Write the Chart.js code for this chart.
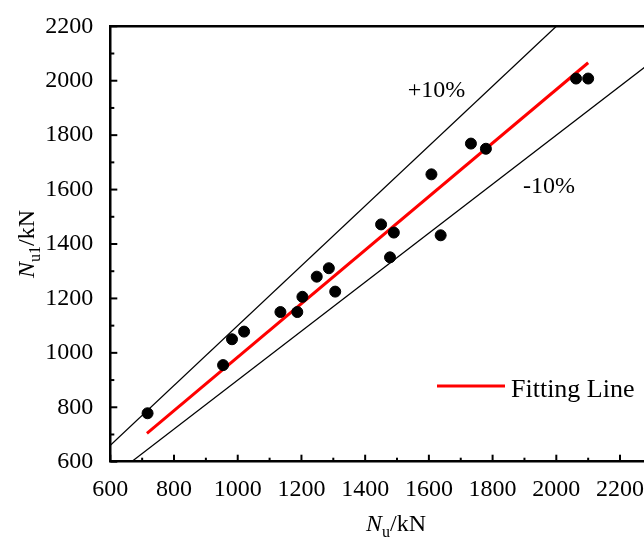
<!DOCTYPE html>
<html>
<head>
<meta charset="utf-8">
<script src="https://cdn.jsdelivr.net/npm/chart.js@4/dist/chart.umd.min.js"></script>
<style>
  html, body { margin: 0; padding: 0; background: #fff; overflow: hidden; }
  #wrap { width: 644px; height: 537px; overflow: hidden; position: relative; }
  canvas { display: block; }
</style>
</head>
<body>
<div id="wrap"><canvas id="c" width="740" height="537"></canvas></div>
<script>
// Data
const testNu = [717, 954, 982, 1020, 1134, 1187, 1203, 1248, 1286, 1306, 1450, 1478, 1490, 1608, 1637, 1732, 1779, 2062, 2100];
const calcNu1 = [778, 955, 1050, 1078, 1150, 1150, 1206, 1280, 1311, 1225, 1472, 1351, 1442, 1656, 1432, 1769, 1750, 2008, 2008];
const fitX = [715, 2100];
const fitY = [704, 2066];
const plus10X = [600, 2000];
const plus10Y = [660, 2200];
const minus10X = [666.7, 2500];
const minus10Y = [600, 2250];
const xMajorTicks = [600, 800, 1000, 1200, 1400, 1600, 1800, 2000, 2200, 2400];
const xMinorTicks = [700, 900, 1100, 1300, 1500, 1700, 1900, 2100, 2300];
const yMajorTicks = [600, 800, 1000, 1200, 1400, 1600, 1800, 2000, 2200];
const yMinorTicks = [700, 900, 1100, 1300, 1500, 1700, 1900, 2100];

const FONT = '"Liberation Serif", "Times New Roman", serif';
const zip = (xs, ys) => xs.map((x, i) => ({ x: x, y: ys[i] }));

const decor = {
  id: 'decor',
  afterDraw(chart) {
    const ctx = chart.ctx;
    const xs = chart.scales.x, ys = chart.scales.y;
    const a = chart.chartArea;
    ctx.save();
    ctx.strokeStyle = '#000';
    // top border
    ctx.lineWidth = 2.5;
    ctx.beginPath();
    ctx.moveTo(a.left - 1.25, a.top);
    ctx.lineTo(a.right, a.top);
    ctx.stroke();
    // inward ticks
    ctx.lineWidth = 2;
    const tickX = (v, len) => { const p = xs.getPixelForValue(v); ctx.beginPath(); ctx.moveTo(p, a.bottom); ctx.lineTo(p, a.bottom - len); ctx.stroke(); };
    const tickY = (v, len) => { const p = ys.getPixelForValue(v); ctx.beginPath(); ctx.moveTo(a.left, p); ctx.lineTo(a.left + len, p); ctx.stroke(); };
    xMajorTicks.forEach(v => tickX(v, 7));
    xMinorTicks.forEach(v => tickX(v, 4));
    yMajorTicks.forEach(v => tickY(v, 7));
    yMinorTicks.forEach(v => tickY(v, 4));

    ctx.fillStyle = '#000';
    ctx.textBaseline = 'alphabetic';
    const drawParts = (parts, cx, cy) => {
      let total = 0;
      parts.forEach(p => { ctx.font = p.font; p.w = ctx.measureText(p.text).width; total += p.w; });
      let x = cx - total / 2;
      ctx.textAlign = 'left';
      parts.forEach(p => { ctx.font = p.font; ctx.fillText(p.text, x, cy + (p.dy || 0)); x += p.w; });
    };
    const titleParts = (sub) => [
      { text: 'N', font: 'italic 24px ' + FONT },
      { text: sub, font: '16px ' + FONT, dy: 6 },
      { text: '/kN', font: '24px ' + FONT }
    ];
    // x title
    drawParts(titleParts('u'), 396, 530.5);
    // y title
    ctx.save();
    ctx.translate(34, 244);
    ctx.rotate(-Math.PI / 2);
    drawParts(titleParts('u1'), 0, 0);
    ctx.restore();

    // annotations
    ctx.font = '24px ' + FONT;
    ctx.textAlign = 'center';
    ctx.fillText('+10%', xs.getPixelForValue(1624), ys.getPixelForValue(1941));
    ctx.fillText('-10%', xs.getPixelForValue(1977), ys.getPixelForValue(1589));

    // legend
    const fitDs = chart.data.datasets[1];
    ctx.strokeStyle = fitDs.borderColor;
    ctx.lineWidth = 3;
    ctx.beginPath();
    ctx.moveTo(437, 386);
    ctx.lineTo(505, 386);
    ctx.stroke();
    ctx.font = '26px ' + FONT;
    ctx.textAlign = 'left';
    ctx.fillText(fitDs.label, 511, 397);
    ctx.restore();
  }
};

new Chart(document.getElementById('c'), {
  type: 'scatter',
  data: {
    datasets: [
      { label: 'Data', data: zip(testNu, calcNu1), backgroundColor: '#000', borderColor: '#000', pointRadius: 5.5, pointHoverRadius: 5.5, order: 0 },
      { type: 'line', label: 'Fitting Line', data: zip(fitX, fitY), borderColor: '#ff0000', borderWidth: 3, pointRadius: 0, fill: false, order: 1 },
      { type: 'line', label: '+10%', data: zip(plus10X, plus10Y), borderColor: '#000', borderWidth: 1.3, pointRadius: 0, fill: false, order: 2 },
      { type: 'line', label: '-10%', data: zip(minus10X, minus10Y), borderColor: '#000', borderWidth: 1.3, pointRadius: 0, fill: false, order: 2 }
    ]
  },
  options: {
    responsive: false,
    animation: false,
    devicePixelRatio: 1,
    layout: { padding: { left: 0, top: 26.3, right: 24.4, bottom: 0 } },
    plugins: { legend: { display: false }, tooltip: { enabled: false } },
    scales: {
      x: {
        type: 'linear', min: 600, max: 2500,
        afterFit: s => { s.height = 75.3; },
        grid: { display: false },
        border: { display: true, color: '#000', width: 2.5 },
        ticks: { stepSize: 200, includeBounds: false, color: '#000', font: { family: FONT, size: 24 }, padding: 6, maxRotation: 0, autoSkip: false, callback: v => String(v) }
      },
      y: {
        type: 'linear', min: 600, max: 2200,
        afterFit: s => { s.width = 110.3; },
        grid: { display: false },
        border: { display: true, color: '#000', width: 2.5 },
        ticks: { stepSize: 200, color: '#000', font: { family: FONT, size: 24 }, padding: 9, callback: v => String(v) }
      }
    }
  },
  plugins: [decor]
});
</script>
</body>
</html>
